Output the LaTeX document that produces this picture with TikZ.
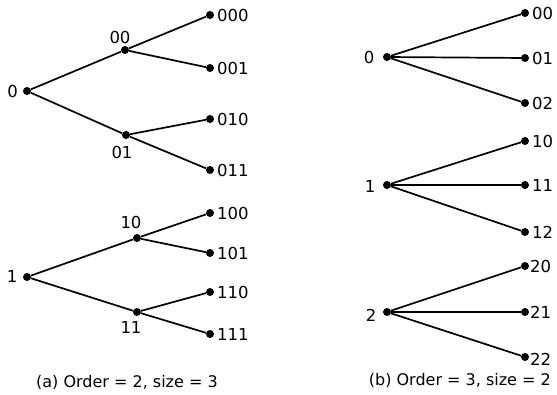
\documentclass[tikz,border=0pt]{standalone}
\usepackage{fontspec}
\setmainfont{DejaVu Sans}
\begin{document}
\begin{tikzpicture}[x=1pt,y=-1pt,
  dot/.style={circle,fill=black,inner sep=0pt,minimum size=8pt},
  lbl/.style={inner sep=0pt,font=\fontsize{16.5}{19}\selectfont},
  leaf/.style={lbl,anchor=west},
  captxt/.style={inner sep=0pt,font=\fontsize{16}{19}\selectfont},
  link/.style={line width=1.7pt}]
\useasboundingbox (0,0) rectangle (557,394);
% ---------- (a) ----------
\node[dot] (a0) at (27,91) {};
\node[dot] (a00) at (125,50) {};
\node[dot] (a01) at (126,135) {};
\node[dot] (a000) at (210,15) {};
\node[dot] (a001) at (210,68) {};
\node[dot] (a010) at (210,119) {};
\node[dot] (a011) at (210,170) {};
\node[dot] (a1) at (27,277) {};
\node[dot] (a10) at (137,238) {};
\node[dot] (a11) at (137,312) {};
\node[dot] (a100) at (210,213) {};
\node[dot] (a101) at (210,253) {};
\node[dot] (a110) at (210,292) {};
\node[dot] (a111) at (210,334) {};
\draw[link] (a0) -- (a00);
\draw[link] (a0) -- (a01);
\draw[link] (a00) -- (a000);
\draw[link] (a00) -- (a001);
\draw[link] (a01) -- (a010);
\draw[link] (a01) -- (a011);
\draw[link] (a1) -- (a10);
\draw[link] (a1) -- (a11);
\draw[link] (a10) -- (a100);
\draw[link] (a10) -- (a101);
\draw[link] (a11) -- (a110);
\draw[link] (a11) -- (a111);
\node[lbl] (la0) at (12.5,91) {0};
\node[lbl] (la00) at (120,37) {00};
\node[lbl] (la01) at (122,152) {01};
\node[leaf] (la000) at (217,15) {000};
\node[leaf] (la001) at (217,68) {001};
\node[leaf] (la010) at (217,119) {010};
\node[leaf] (la011) at (217,170) {011};
\node[lbl] (la1) at (12,276) {1};
\node[lbl] (la10) at (131,222) {10};
\node[lbl] (la11) at (131,327) {11};
\node[leaf] (la100) at (217,213) {100};
\node[leaf] (la101) at (217,253) {101};
\node[leaf] (la110) at (217,292) {110};
\node[leaf] (la111) at (217,334) {111};
\node[captxt,anchor=west] (capa) at (36,382) {(a) Order = 2, size = 3};
% ---------- (b) ----------
\node[dot] (b0) at (387,57) {};
\node[dot] (b00) at (525,13) {};
\node[dot] (b01) at (525,58) {};
\node[dot] (b02) at (525,103) {};
\node[dot] (b1) at (387,185) {};
\node[dot] (b10) at (525,141) {};
\node[dot] (b11) at (525,185) {};
\node[dot] (b12) at (525,232) {};
\node[dot] (b2) at (387,312) {};
\node[dot] (b20) at (525,266) {};
\node[dot] (b21) at (525,312) {};
\node[dot] (b22) at (525,357) {};
\foreach \r in {0,1,2}{
  \foreach \c in {0,1,2}{
    \draw[link] (b\r) -- (b\r\c);
  }
}
\node[lbl] (lb0) at (369,57) {0};
\node[lbl] (lb1) at (370,186) {1};
\node[lbl] (lb2) at (371,315) {2};
\node[leaf] (lb00) at (532,13) {00};
\node[leaf] (lb01) at (532,58) {01};
\node[leaf] (lb02) at (532,103) {02};
\node[leaf] (lb10) at (532,141) {10};
\node[leaf] (lb11) at (532,185) {11};
\node[leaf] (lb12) at (532,232) {12};
\node[leaf] (lb20) at (530,266) {20};
\node[leaf] (lb21) at (530,312) {21};
\node[leaf] (lb22) at (530,359) {22};
\node[captxt,anchor=east] (capb) at (551,380) {(b) Order = 3, size = 2};
\end{tikzpicture}
\end{document}
